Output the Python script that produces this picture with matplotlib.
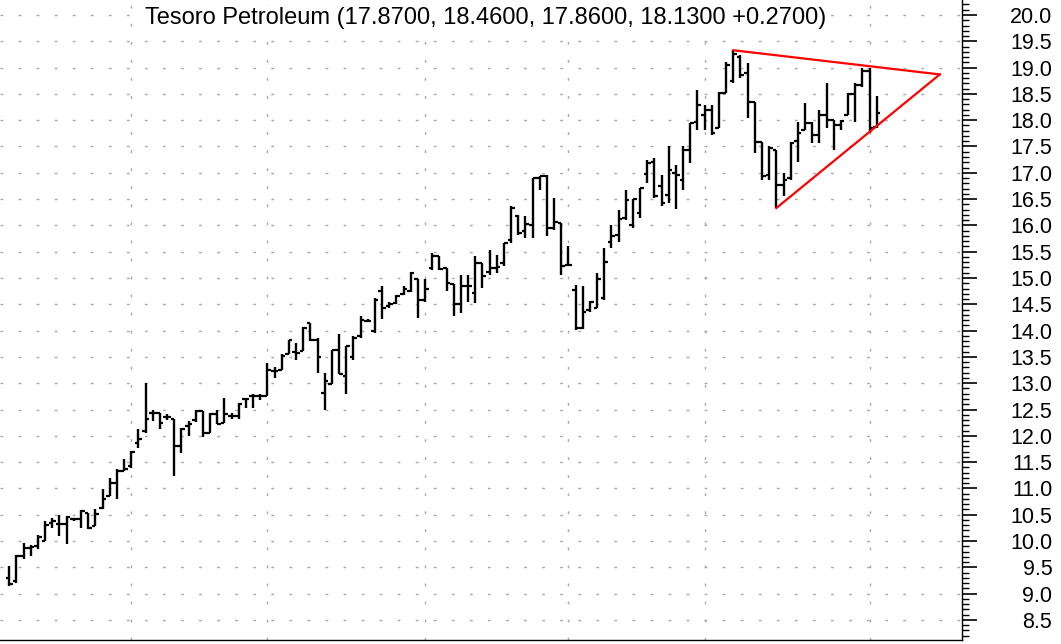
"""OHLC bar chart of Tesoro Petroleum with a symmetrical triangle drawn in."""

import matplotlib

matplotlib.use("Agg")
import matplotlib.pyplot as plt
import numpy as np
from matplotlib import ticker

plt.rcParams["font.family"] = ["Liberation Sans", "DejaVu Sans"]

# daily bars
opens = [
    9.30, 9.24, 9.71, 9.87, 9.90, 10.00, 10.35, 10.32, 10.33, 10.41,
    10.41, 10.54, 10.28, 10.63, 10.85, 11.11, 11.33, 11.42, 11.87, 12.09,
    12.43, 12.44, 12.35, 12.31, 11.80, 12.19, 12.30, 12.47, 12.06, 12.41,
    12.25, 12.37, 12.38, 12.70, 12.76, 12.76, 12.76, 13.24, 13.26, 13.55,
    13.60, 13.61, 14.14, 13.83, 12.82, 12.98, 13.64, 13.14, 13.50, 13.90,
    14.19, 14.00, 14.75, 14.47, 14.52, 14.70, 14.76, 14.99, 14.58, 15.19,
    15.41, 15.19, 14.89, 14.51, 14.84, 14.72, 15.28, 15.12, 15.19, 15.28,
    15.72, 16.17, 15.90, 16.01, 16.90, 16.93, 15.95, 16.04, 15.25, 14.77,
    14.05, 14.40, 14.43, 14.62, 15.69, 15.82, 16.14, 16.01, 16.23, 16.97,
    17.21, 16.74, 16.58, 16.99, 16.86, 17.44, 17.97, 18.10, 18.20, 17.85,
    18.52, 18.75, 19.20, 18.90, 18.35, 17.59, 16.95, 17.43, 16.77, 16.90,
    17.60, 17.81, 17.94, 17.72, 18.10, 18.00, 17.90, 18.10, 18.50, 18.67,
    18.94, 17.87,
]
highs = [
    9.52, 9.74, 9.97, 9.93, 10.12, 10.38, 10.44, 10.49, 10.47, 10.44,
    10.59, 10.54, 10.60, 10.98, 11.20, 11.36, 11.55, 11.71, 12.12, 13.01,
    12.50, 12.44, 12.41, 12.31, 12.15, 12.28, 12.50, 12.47, 12.44, 12.50,
    12.72, 12.44, 12.63, 12.72, 12.79, 12.79, 13.39, 13.30, 13.55, 13.83,
    13.77, 14.06, 14.14, 13.85, 13.20, 13.64, 13.93, 13.71, 13.90, 14.28,
    14.22, 14.62, 14.84, 14.55, 14.68, 14.84, 15.12, 14.99, 14.98, 15.47,
    15.42, 15.19, 14.89, 15.06, 15.06, 15.42, 15.28, 15.53, 15.44, 15.66,
    16.36, 16.20, 16.17, 16.90, 16.93, 16.96, 16.52, 16.04, 15.61, 14.87,
    14.84, 14.57, 15.09, 15.57, 16.01, 16.29, 16.67, 16.50, 16.71, 17.25,
    17.28, 16.96, 17.51, 17.15, 17.50, 17.95, 18.58, 18.29, 18.29, 18.54,
    19.11, 19.33, 19.24, 19.08, 18.35, 17.59, 17.50, 17.43, 16.99, 17.59,
    17.97, 18.32, 17.97, 18.19, 18.70, 18.00, 18.00, 18.51, 18.70, 18.99,
    18.99, 18.46,
]
lows = [
    9.15, 9.21, 9.65, 9.71, 9.84, 10.00, 10.25, 10.09, 9.95, 10.38,
    10.25, 10.22, 10.28, 10.60, 10.85, 10.79, 11.33, 11.39, 11.77, 12.06,
    12.28, 12.12, 12.30, 11.23, 11.68, 11.99, 12.26, 11.98, 12.06, 12.22,
    12.24, 12.31, 12.31, 12.53, 12.53, 12.69, 12.76, 13.10, 13.26, 13.55,
    13.45, 13.61, 13.80, 13.20, 12.50, 12.98, 13.17, 12.79, 13.44, 13.85,
    14.17, 13.95, 14.22, 14.43, 14.51, 14.68, 14.74, 14.24, 14.55, 15.15,
    15.15, 14.76, 14.28, 14.33, 14.55, 14.53, 14.81, 15.06, 15.09, 15.22,
    15.66, 15.82, 15.76, 15.76, 16.67, 15.79, 15.91, 15.06, 15.22, 14.01,
    14.03, 14.36, 14.43, 14.58, 15.57, 15.69, 16.10, 15.95, 16.14, 16.80,
    16.52, 16.37, 16.42, 16.31, 16.67, 17.18, 17.82, 17.81, 17.72, 17.85,
    18.51, 18.70, 18.80, 18.04, 17.37, 16.86, 16.86, 16.33, 16.55, 16.86,
    17.21, 17.81, 17.56, 17.56, 17.85, 17.43, 17.81, 18.10, 17.97, 18.64,
    17.75, 17.86,
]
closes = [
    9.19, 9.71, 9.87, 9.89, 10.08, 10.30, 10.38, 10.33, 10.45, 10.41,
    10.57, 10.25, 10.51, 10.79, 11.11, 11.33, 11.36, 11.69, 11.93, 12.31,
    12.43, 12.25, 12.35, 11.80, 12.12, 12.22, 12.47, 12.06, 12.41, 12.22,
    12.41, 12.37, 12.60, 12.70, 12.76, 12.76, 13.26, 13.24, 13.52, 13.83,
    13.58, 14.04, 13.83, 13.49, 13.05, 13.64, 13.18, 13.71, 13.85, 14.20,
    14.19, 14.58, 14.43, 14.50, 14.65, 14.80, 15.10, 14.58, 14.79, 15.41,
    15.17, 14.91, 14.51, 14.84, 14.84, 15.28, 15.03, 15.19, 15.20, 15.66,
    16.33, 15.86, 16.03, 16.90, 16.93, 15.95, 16.07, 15.22, 15.25, 14.05,
    14.36, 14.55, 14.98, 15.31, 15.80, 16.12, 16.48, 16.50, 16.71, 17.19,
    16.55, 16.42, 17.06, 16.96, 17.44, 17.94, 18.29, 18.20, 17.75, 18.52,
    19.05, 19.25, 18.85, 18.35, 17.59, 16.93, 17.48, 16.77, 16.86, 17.57,
    17.75, 17.94, 17.72, 18.10, 18.00, 17.90, 17.98, 18.50, 18.67, 18.94,
    17.86, 18.13,
]

# bars where a new month begins (vertical grid)
month_starts = [17, 36, 58, 78, 97, 120]

# triangle: upper and lower trend lines meeting at the apex
upper_trend_x = [101, 129.8]
upper_trend_y = [19.33, 18.87]
lower_trend_x = [107, 129.8]
lower_trend_y = [16.33, 18.87]

title = "Tesoro Petroleum (17.8700, 18.4600, 17.8600, 18.1300 +0.2700)"

fig = plt.figure(figsize=(10.61, 6.44), dpi=100)
ax = fig.add_axes([0.0, 4 / 644, 962 / 1061, 640 / 644])

x = np.arange(len(closes))
tick_w = 0.5

ax.vlines(x, lows, highs, color="black", linewidth=1.7, zorder=3)
ax.hlines(opens, x - tick_w, x, color="black", linewidth=1.6, zorder=3)
ax.hlines(closes, x, x + tick_w, color="black", linewidth=1.6, zorder=3)

ax.plot(upper_trend_x, upper_trend_y, color="#ff0000", linewidth=1.6, zorder=4)
ax.plot(lower_trend_x, lower_trend_y, color="#ff0000", linewidth=1.6, zorder=4)

ax.set_xlim(-1.3, 132.9)
ax.set_ylim(8.118, 20.285)

ax.set_xticks(month_starts)
ax.tick_params(axis="x", length=0, labelbottom=False)

ax.yaxis.tick_right()
ax.yaxis.set_major_locator(ticker.MultipleLocator(0.5))
ax.yaxis.set_minor_locator(ticker.MultipleLocator(0.1))
ax.yaxis.set_major_formatter(ticker.FormatStrFormatter("%.1f"))
ax.tick_params(axis="y", which="major", length=10.5, width=1.2, pad=54.5,
               labelsize=15.5, direction="out")
ax.tick_params(axis="y", which="minor", length=5, width=1.0, direction="out")
for lbl in ax.yaxis.get_majorticklabels():
    lbl.set_horizontalalignment("right")

ax.grid(True, which="major", color="#a8a8a8", linewidth=1.0,
        linestyle=(0, (2, 11)), zorder=0)

for side in ["left", "top"]:
    ax.spines[side].set_visible(False)
ax.spines["right"].set_linewidth(1.0)
ax.spines["bottom"].set_linewidth(1.0)

ax.text(0.505, 0.972, title, transform=ax.transAxes, ha="center", va="center",
        fontsize=17, color="black", zorder=5,
        bbox=dict(facecolor="white", edgecolor="none", pad=1.0))

fig.savefig("out.png", dpi=100)
